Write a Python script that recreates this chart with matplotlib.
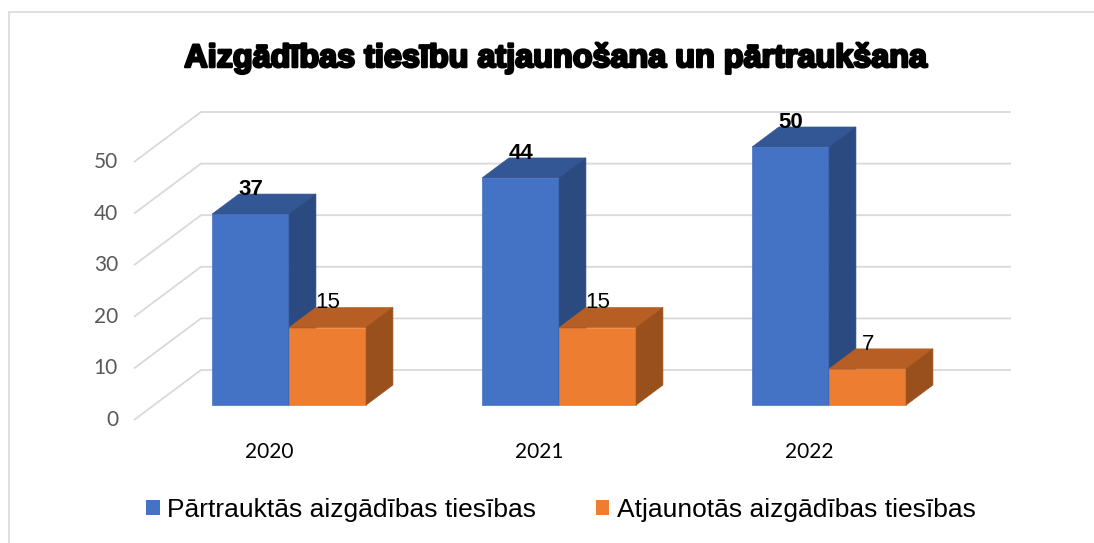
import matplotlib.pyplot as plt
import matplotlib.patheffects as pe
from matplotlib.patches import Polygon, Patch, Rectangle

# Datos del gráfico
anios = ["2020", "2021", "2022"]
pārtrauktās = [37, 44, 50]
atjaunotās = [15, 15, 7]
serie_nombres = ["Pārtrauktās aizgādības tiesības", "Atjaunotās aizgādības tiesības"]
y_ticks = [0, 10, 20, 30, 40, 50]
titulo = "Aizgādības tiesību atjaunošana un pārtraukšana"

# Colores (frente, arriba, lado)
AZUL = ("#4472C4", "#335695", "#2B4A80")
NARANJA = ("#ED7D31", "#B65E23", "#9A501D")
GRID = "#d9d9d9"

# Geometría (pixeles del lienzo de 1094x543)
W_PX, H_PX = 1094, 543
PX_CAT = 270.0      # pixeles por categoría
PX_VAL = 5.16       # pixeles por unidad
X0_PX = 269.0       # centro de la categoría 0 en el plano frontal
Y0_PX = H_PX - 420  # valor 0 en el plano frontal
DX = 67 / PX_CAT    # profundidad total (en unidades de categoría)
DY = 50 / PX_VAL    # profundidad total (en unidades de valor)
ANCHO = 77 / PX_CAT
D0, D1 = 0.3, 0.7


def proj(x, v, d):
    return (x + d * DX, v + d * DY)


def caja(ax, x0, x1, h, colores):
    frente, arriba, lado = colores
    caras = [
        ([proj(x0, 0, D0), proj(x1, 0, D0), proj(x1, h, D0), proj(x0, h, D0)], frente),
        ([proj(x0, h, D0), proj(x1, h, D0), proj(x1, h, D1), proj(x0, h, D1)], arriba),
        ([proj(x1, 0, D0), proj(x1, 0, D1), proj(x1, h, D1), proj(x1, h, D0)], lado),
    ]
    for pts, c in caras:
        ax.add_patch(Polygon(pts, closed=True, facecolor=c, edgecolor=c, lw=0.5, zorder=3))


fig = plt.figure(figsize=(W_PX / 100, H_PX / 100), dpi=100)
ax = fig.add_axes([0, 0, 1, 1])
ax.set_xlim((0 - X0_PX) / PX_CAT, (W_PX - X0_PX) / PX_CAT)
ax.set_ylim((0 - Y0_PX) / PX_VAL, (H_PX - Y0_PX) / PX_VAL)
ax.axis("off")

# Borde del área del gráfico
fig.add_artist(Rectangle((8.5 / W_PX, -0.1), 1.2, (H_PX - 12.5) / H_PX + 0.1,
                         transform=fig.transFigure, fill=False, edgecolor=GRID, lw=1.2))

# Rejilla: pared trasera y pared lateral
x_izq, x_der = -0.5, len(anios) - 0.5
for v in y_ticks:
    a = proj(x_izq, v, 0)
    b = proj(x_izq, v, 1)
    c = proj(x_der, v, 1)
    ax.plot([a[0], b[0], c[0]], [a[1], b[1], c[1]], color=GRID, lw=1.3, zorder=1,
            solid_capstyle="butt")
    ax.text(x_izq - 16 / PX_CAT, v, str(v), ha="right", va="center",
            fontsize=15, color="#595959", family=["Lato", "DejaVu Sans"])

# Barras
for i, anio in enumerate(anios):
    caja(ax, i - ANCHO, i, pārtrauktās[i], AZUL)
    caja(ax, i, i + ANCHO, atjaunotās[i], NARANJA)

    xb, yb = proj(i - ANCHO / 2, pārtrauktās[i] + 4.8, D0)
    ax.text(xb, yb, str(pārtrauktās[i]), ha="center", va="center", fontsize=16,
            fontweight="bold", family="Liberation Sans", color="black", zorder=5)
    xn, yn = proj(i + ANCHO / 2, atjaunotās[i] + 4.8, D0)
    ax.text(xn, yn, str(atjaunotās[i]), ha="center", va="center", fontsize=16,
            family="Liberation Sans", color="black", zorder=5)

    ax.text(i, -32 / PX_VAL, anio, ha="center", va="center", fontsize=15,
            color="black", family=["Lato", "DejaVu Sans"])

# Título
fig.text(556 / W_PX, 1 - 67 / H_PX, titulo, ha="center", va="baseline",
         fontsize=23.3, fontweight="bold",
         family=["Liberation Sans Narrow", "DejaVu Sans Condensed", "Liberation Sans"],
         color="black",
         path_effects=[pe.withStroke(linewidth=1.8, foreground="black")])

# Leyenda
handles = [Patch(facecolor=AZUL[0]), Patch(facecolor=NARANJA[0])]
fig.legend(handles, serie_nombres, loc="center", bbox_to_anchor=(561 / W_PX, 1 - 510 / H_PX),
           ncol=2, frameon=False, prop={"family": "Liberation Sans", "size": 19},
           handlelength=0.51, handleheight=0.51, handletextpad=0.28, columnspacing=2.27)

fig.savefig("out.png", dpi=100)
